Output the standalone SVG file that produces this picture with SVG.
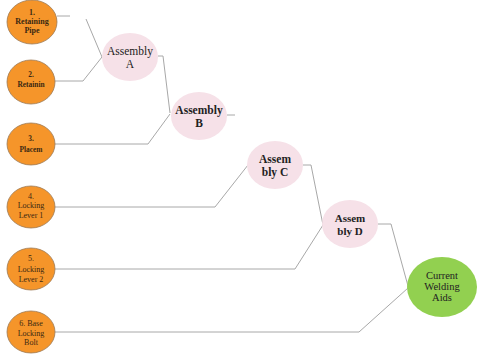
<svg xmlns="http://www.w3.org/2000/svg" width="480" height="358" viewBox="0 0 480 358">
<style>
.part{fill:#F5952A;stroke:#9C7A55;stroke-width:0.8}
.asm{fill:#F6E1E8}
.fin{fill:#92D050}
.pt{font-family:"Liberation Serif",serif;font-size:8px;fill:#3a2812;text-anchor:middle}
.sm{font-size:7.4px}
.b{font-weight:bold}
.at{font-family:"Liberation Serif",serif;font-size:11.5px;fill:#222;text-anchor:middle}
.ft{font-family:"Liberation Serif",serif;font-size:10.5px;fill:#222;text-anchor:middle}
.ln{fill:none;stroke:#A8A8A8;stroke-width:1}
</style>
<rect width="480" height="358" fill="#fff"/>
<g id="connectors">
<path class="ln" d="M57,16 H70"/>
<path class="ln" d="M86,19 L102,57"/>
<path class="ln" d="M55,81 H83 L102,57"/>
<path class="ln" d="M158,56 H163 L170,113"/>
<path class="ln" d="M55,144 H148 L170,114"/>
<path class="ln" d="M227,115 H235"/>
<path class="ln" d="M55,207 H215 L248,165"/>
<path class="ln" d="M303,165 H311 L323,225"/>
<path class="ln" d="M55,269 H295 L323,225"/>
<path class="ln" d="M378,224 H391 L408,286"/>
<path class="ln" d="M55,332 H359 L408,288"/>
</g>
<g id="n1"><ellipse class="part" cx="32" cy="22" rx="25" ry="22"/>
<text class="pt b" x="32" y="15">1.</text><text class="pt b" x="32" y="24">Retaining</text><text class="pt b" x="32" y="33">Pipe</text></g>
<g id="n2"><ellipse class="part" cx="31" cy="82" rx="24" ry="22"/>
<text class="pt b sm" x="31" y="77">2.</text><text class="pt b sm" x="31" y="87">Retainin</text></g>
<g id="n3"><ellipse class="part" cx="31" cy="144" rx="24" ry="21"/>
<text class="pt b sm" x="31" y="141">3.</text><text class="pt b sm" x="31" y="152">Placem</text></g>
<g id="n4"><ellipse class="part" cx="31" cy="207" rx="24" ry="21"/>
<text class="pt" x="31" y="199">4.</text><text class="pt" x="31" y="208">Locking</text><text class="pt" x="31" y="218">Lever  1</text></g>
<g id="n5"><ellipse class="part" cx="31" cy="269" rx="24" ry="21"/>
<text class="pt" x="31" y="261">5.</text><text class="pt" x="31" y="272">Locking</text><text class="pt" x="31" y="282">Lever 2</text></g>
<g id="n6"><ellipse class="part" cx="31" cy="332" rx="24" ry="21"/>
<text class="pt" x="31" y="326">6. Base</text><text class="pt" x="31" y="336">Locking</text><text class="pt" x="31" y="345">Bolt</text></g>
<g id="A"><ellipse class="asm" cx="130" cy="57" rx="28" ry="24"/>
<text class="at" x="130" y="55">Assembly</text><text class="at" x="130" y="68">A</text></g>
<g id="B"><ellipse class="asm" cx="199" cy="116" rx="28" ry="24"/>
<text class="at b" x="199" y="114">Assembly</text><text class="at b" x="199" y="127">B</text></g>
<g id="C"><ellipse class="asm" cx="275" cy="165" rx="28" ry="24"/>
<text class="at b" x="275" y="163">Assem</text><text class="at b" x="275" y="176">bly  C</text></g>
<g id="D"><ellipse class="asm" cx="350" cy="224" rx="28" ry="24"/>
<text class="at b" x="350" y="222" style="font-size:11px">Assem</text><text class="at b" x="350" y="235" style="font-size:11px">bly D</text></g>
<g id="final"><ellipse class="fin" cx="442" cy="287" rx="35" ry="30"/>
<text class="ft" x="442" y="279">Current</text><text class="ft" x="442" y="290">Welding</text><text class="ft" x="442" y="301">Aids</text></g>
</svg>
